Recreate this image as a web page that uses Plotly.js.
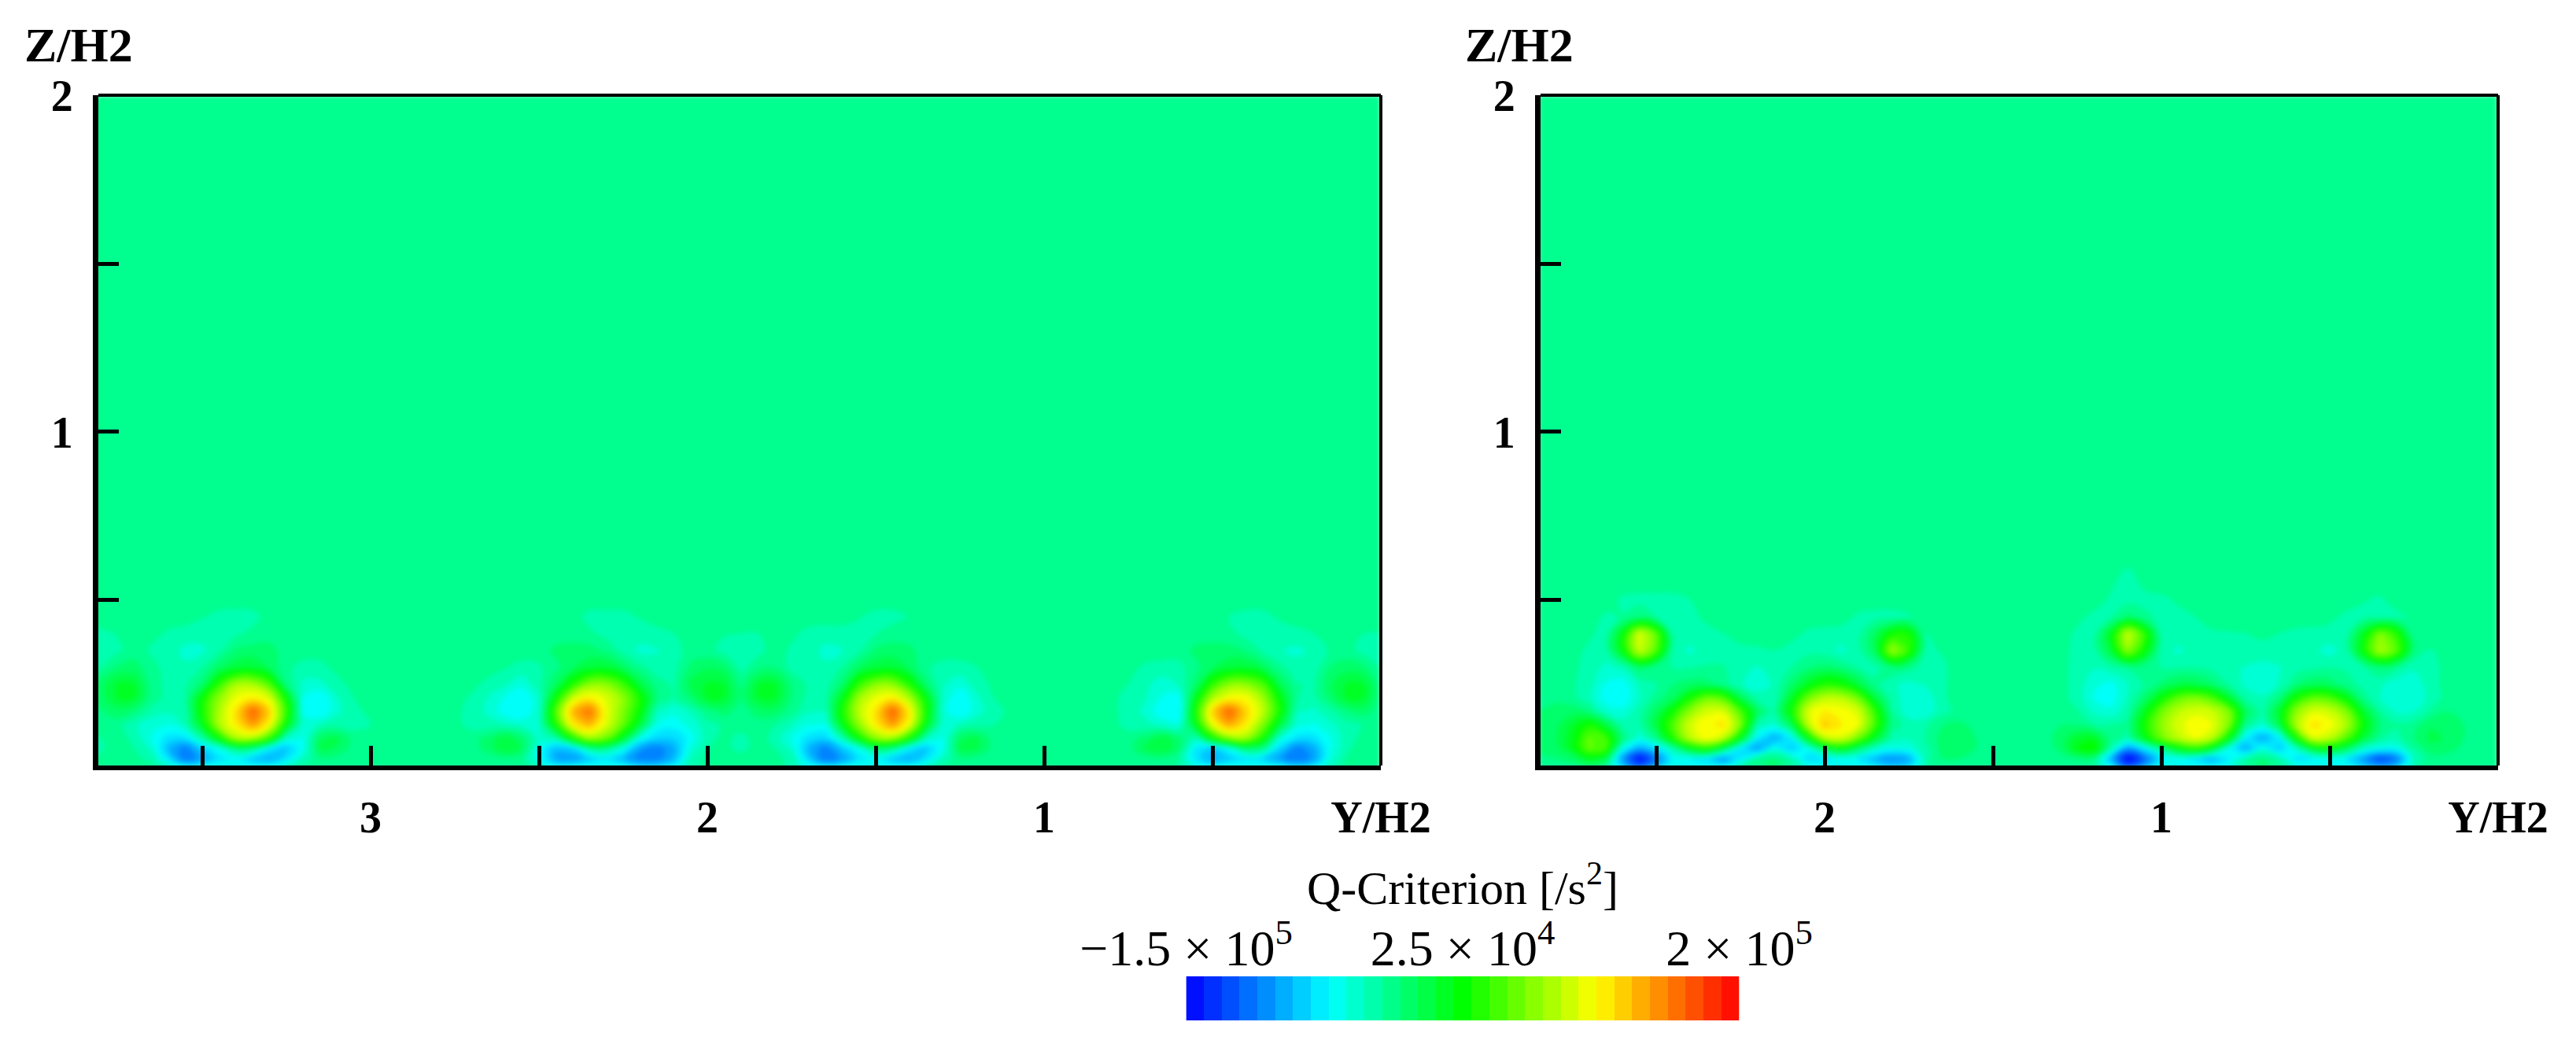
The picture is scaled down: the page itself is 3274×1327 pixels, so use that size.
<!DOCTYPE html>
<html><head><meta charset="utf-8">
<script src="https://cdn.plot.ly/plotly-3.0.1.min.js"></script>
<style>html,body{margin:0;padding:0;background:#fff}.contourlayer{filter:blur(3px)}</style>
</head><body><div id="chart" style="width:3274px;height:1327px"></div>
<script>
// Q-criterion in units of 1e4 /s2. Background reading:
const background = -2;
const rowZ = [0,.03,.06,.09,.13,.17,.21,.25,.30,.35,.40,.45,.50,.55,2];
const leftY = [3.82,3.75,3.70,3.65,3.60,3.55,3.50,3.45,3.40,3.35,3.30,3.25,3.20,3.15,3.10,3.05,3.00,2.95,2.90,2.85,2.80,2.75,2.70,2.65,2.60,2.55,2.50,2.45,2.40,2.35,2.30,2.25,2.20,2.15,2.10,2.05,2.00,1.95,1.90,1.85,1.80,1.75,1.70,1.65,1.60,1.55,1.50,1.45,1.40,1.35,1.30,1.25,1.20,1.15,1.10,1.05,1.00,.95,.90,.85,.80,.75,.70,.65,.60,.55,.50,.45,.40,.35,.30,.25,.20,.15,.10,.05,0];
const rightY = [2.85,2.80,2.75,2.70,2.65,2.60,2.55,2.50,2.45,2.40,2.35,2.30,2.25,2.20,2.15,2.10,2.05,2.00,1.95,1.90,1.85,1.80,1.75,1.70,1.65,1.60,1.55,1.50,1.45,1.40,1.35,1.30,1.25,1.20,1.15,1.10,1.05,1.00,.95,.90,.85,.80,.75,.70,.65,.60,.55,.50,.45,.40,.35,.30,.25,.20,.15,.10,.05,0];

// Each reading run: [first column index, values...]; unlisted cells read as background.
const leftZ000 = [[4,-3,-4.5,-5,-4.5,-4.5,-5,-4.5,-3],[26,-3,-5,-5,-4.5,-4.5,-5,-6,-6,-5,-3],[41,-3,-4.5,-5,-5,-4.5,-4.5,-5,-4.5,-3],[64,-2.5,-4,-5,-4.5,-4.5,-4.5,-5,-6,-5.5,-3]];
const leftZ003 = [[0,-2.5,-2,-2.3,-3,-6.5,-10.5,-8.5,-6.5,-6,-7.5,-8.5,-6.5,-3.5,-1.8],[22,-2,-2,-1.8,-2.2,-5,-8.5,-9,-7.5,-6.5,-8,-10,-10,-8,-3.5,-2.2],[40,-2.2,-3,-7,-10.5,-9,-6.5,-6,-7.5,-8.5,-6.5,-3.5,-1.8],[62,-2,-1.8,-2.5,-6.5,-8.5,-7.5,-6.5,-7,-9,-10.5,-9,-4.5,-2.4]];
const leftZ006 = [[0,-3,-2,-2.6,-4,-8,-10,-7,-5,-1.5,-2,-6,-7.5,-5,0,-.5],[23,-1,.8,-.5,-5,-8,-7,-2.5,-2,-5,-9,-10,-8.5,-4.5,-2.6,-2.2,-3],[40,-2.6,-4,-8,-10,-7.5,-5,-1,-2,-6,-7.5,-5,0,0],[62,0,.8,-1,-6,-7.5,-5,-1,-2,-7,-10,-8.5,-5,-2.8]];
const leftZ009 = [[0,-2.8,-2,-3,-5,-6.5,-6.5,-3,2.5,8,8,4,-4,-5,-.5,0],[23,-1,.5,-1,-4,-3,3,7.5,6,1,-5,-7,-7,-5.5,-3,-2.2,-3],[40,-3,-5,-6.5,-7,-3.5,2.5,7,7.5,3,-3.5,-5,-.5,0],[62,-1,.5,-1,-3.5,2.5,7,7.5,3,-4.5,-6.5,-6.5,-5,-3,-2.2]];
const leftZ013 = [[0,-2,-2.2,-3.5,-4.5,-4.8,-3.5,1.5,8,11,14,10.5,2,-4.5,-3.5,-3,-3,-2.6],[21,-2.2,-3,-3.2,-3.5,-4,-4,3,11,13,9.5,5.5,.5,-5,-5.5,-4.5,-3,-2.4],[39,-2,-2.5,-3.6,-4.8,-5,1.5,7,11,14,10,1.5,-4.5,-3.5,-3,-2.6,-2.3],[60,-2.2,-3,-3.4,-4,-4.5,1.5,10,13.5,11,6.5,.5,-4.5,-5,-4,-3,-2.5]];
const leftZ017 = [[0,-1.8,-.8,-1.5,-3,-3.5,-3,3,8,11.5,16,12,4,-5,-6,-4,-3,-2.2],[21,-2.3,-3,-4,-5.5,-6,-4,5,13,15.5,10,6.5,2.5,-3.5,-4.5,-3.5,-1.8,-1,-2,-1,-.8,-2,-3.5,-3.5,3,8.5,11.5,16,11,3,-4.5,-6,-4.2,-3,-2.3],[60,-2.3,-3,-4,-5.8,-6,3,12,16,12,8.5,3,-3.5,-4,-3,-1.5,-1]];
const leftZ021 = [[0,-1.5,1,.8,-2,-3,-2.6,2.5,7,10,11,9.5,2.5,-5,-6,-3.8,-2.6],[22,-2.8,-3.8,-5,-6,-4,2.5,9,11,9.5,7,3,-1.5,-2.8,-1.2,1,.8,-1.5,.8,1,-1.5,-3,-3,1.5,7.5,10,11,8,2,-4,-6,-4,-2.6],[60,-2.3,-3,-3.6,-5,-5.5,1.5,8,10.5,10.5,7.5,2.2,-2.5,-3,-1,1,.8]];
const leftZ025 = [[0,-1.5,1,.8,-2,-3,-2.8,-1,4,8,8,5,-1.5,-4,-4,-3,-2.2],[22,-2.2,-3,-3.6,-4.5,-3,-.5,3.5,7,7,4.5,.5,-2,-2.8,0,1,.8,-1.8,.8,1,-1.5,-2.8,-3.2,-1,4,7,7,3.5,-1,-3.6,-4.5,-3.2,-2.3],[60,-2,-2.6,-3.4,-4.3,-3.6,-1,4,7,7,5,0,-2.5,-2.8,-.5,1,.8]];
const leftZ030 = [[0,-3,-1.2,-1,-2.2,-3,-3.5,-2.6,-.6,.5,.8,-.5,-2.3,-3,-3,-2.2],[24,-2.5,-3,-2.8,-1.8,-.5,.5,.8,-.5,-2.2,-3.2,-3,-1.2,-.5,-.8,-3,-1.8,-1.5,-3,-3.5,-3.5,-2.5,-.5,.5,.8,-.5,-2.4,-3,-3,-2.6],[61,-2.2,-2.8,-3,-3,-1.8,-.5,.5,.8,-.3,-2.2,-3.2,-3.2,-1.4,-.8,-1.2,-2.6]];
const leftZ035 = [[0,-3,-2.8,-2,-2.8,-3.2,-4,-4,-2.8,-1.2,-1,-1,-2],[27,-1.2,-1,-1,-1.6,-3,-4,-3.8,-3.2,-2,-2.2,-3,-3.5,-3,-2,-2.8,-3.2,-4,-3.8,-2.8,-1.2,-1,-1.2],[65,-1.2,-1,-1,-1.5,-2.8,-3.6,-4,-3.4,-2.4,-2.2,-3,-3]];
const leftZ040 = [[0,-3,-2.5,-2,-2.2,-2.8,-3.2,-3.2,-3,-2.8,-2.2],[29,-2.3,-3,-3.2,-3.2,-3,-2.6,-2,-2,-2.5,-2.6,-2.6,-2,-2.3,-3,-3.2,-3.2,-3,-2.6],[67,-2.2,-3,-3.2,-3.2,-3,-2.6,-2,-2,-2.6,-2.6]];
const leftZ045 = [[6,-2.5,-3,-3.1,-3],[29,-3,-3,-3,-2.5],[45,-2.5,-3,-3,-2.5],[67,-2.6,-3,-3,-2.4]];
const leftZ050 = [];
const leftZ055 = [];
const leftZtop = [];

const rightZ000 = [[4,-2.6,-7,-10,-7.5,-4.5,-5,-5.5,-5,-2.5,-1.5,-1,-2,-4,-4.5,-4.5,-5,-6,-7,-6.5,-2.6],[34,-5,-10,-7.5,-4.5,-4.5,-5,-5.5,-4.5,-2,-1,-2,-4,-4.5,-4.5,-5,-7,-8,-7,-2.5]];
const rightZ003 = [[0,-1.8,-1.5,-1,1.5,0,-9,-14,-10,-5.5,-6,-6.5,-9,-6,-2.5,-1.5,-3,-7,-6.5,-5.5,-6,-8,-9.5,-8.5,-3,-1.5,-1.5],[31,-1.8,-1.5,-1.8,-8,-14.5,-11,-6,-5.5,-6.5,-8,-6,-3,-1.5,-3,-6.5,-6,-5.5,-6,-9,-12,-10,-3.5]];
const rightZ006 = [[0,-1.2,-.8,1.5,5.5,4.5,-5,-8.5,-6.5,-3,1.5,3.5,-.5,-6,-9,-5,-7.5,-5,-.5,2,-1,-4,-5,-4.5,-3,-1,-.5,-1.5],[31,-1.2,2,3,-3,-9,-6,-2,2,4,1,-5,-8.5,-5,-7.5,-4,1,2,-.5,-4,-5,-5,-2.5,-.8,-1,-1.8]];
const rightZ009 = [[0,-1,-.5,1.5,5.5,4.5,-1.5,-4.5,-2,3.5,8.5,10.5,8.5,1.5,-6,-8.5,-6,1.5,8.5,9.5,6,1,-3,-3.5,-2.5,-1,-.5,-1.5],[31,-1,1,1.5,-2,-3,1.5,6,8.5,10,8.5,2,-6,-8.5,-6,2.5,9.5,8.5,5,.5,-2.5,-3,-1.5,0,-.5,-1.5]];
const rightZ013 = [[0,-1,-.8,1,3,.5,-3,-3,.5,5,9.5,10.5,11.5,6.5,-3,-4.2,-.5,8.5,12.5,11,10,4.5,-2,-3,-2.8,-1.5,-1.2,-1.8],[31,-1.5,-1.5,-2.5,-2.6,-2.2,3,7,9.5,10.5,10,6.5,-2,-4.2,0,8,11.5,10.5,8,2.5,-1.5,-2.4,-2,-.5,-.5,-1.5]];
const rightZ017 = [[0,-1.5,-1,-.8,-1.5,-4,-4.5,-3,-.5,3,7,9.5,9.5,5,-.5,-2.5,2.5,9.5,11,10.5,9.5,4,-2.5,-4.5,-4.5,-3,-2.2],[32,-2.5,-4,-4.5,-3,1.5,6,8.5,9.5,9,6.5,-.5,-3,1,7,9.5,9,6.5,1,-2.5,-4,-3.8,-2.4,-1.5,-1.8]];
const rightZ021 = [[1,-1.8,-2.2,-3.4,-5.5,-5.8,-3.8,-2,-.5,3,6,5,0,-3,-3.5,1,6,8.5,8.5,6,.5,-3,-4.5,-4.5,-2.8],[31,-2.2,-3,-5,-5.5,-3.6,-1,2.5,5.5,6.5,5,1,-2.8,-3.5,-1.5,3,5.5,5,2,-2,-3.8,-4.8,-4.8,-3.2,-2.2]];
const rightZ025 = [[2,-2.4,-3.2,-5,-5.5,-3.5,-2.6,-1.5,-1,-1,-2,-3.5,-4.5,-3.5,-1,1.5,3.5,3,.5,-2.2,-3.5,-4,-3.6,-2.8],[31,-2.2,-3,-4.6,-5.2,-3.8,-2.4,-1.2,0,0,-1,-2.6,-4,-4.5,-3.6,-1.5,-.5,-.8,-2,-3,-3.5,-4.5,-4.5,-3,-2.2]];
const rightZ030 = [[2,-2.3,-3,-4,-3.5,-1,-2.4,-2.6,-2.6,-2.5,-2.5,-3.4,-3.8,-3.2,-2.6,-1.5,-1,-1.5,-2.6,-3,-1.5,-2.2,-3,-2.8],[31,-2.2,-3,-3.6,-3,-2.4,-2.4,-2.6,-2.6,-2.6,-3,-3.4,-3.8,-4.2,-3.8,-3.2,-2.8,-2.6,-2.8,-2.8,-1.5,-2.4,-3.5,-3,-2.2]];
const rightZ035 = [[2,-2.2,-2.8,-3,2,9,5,-3,-4,-3,-3,-3,-2.8,-2.6,-3,-3,-3.2,-4,-3,-.5,7.5,4,-2.8,-2.5],[31,-2.2,-2.9,-3,.5,7,2.5,-3,-4,-3,-3,-2.9,-2.8,-2.9,-3,-3,-3.4,-4.2,-3,2.5,8,5,-1.5,-2.7]];
const rightZ040 = [[3,-2.4,-3,2,9.5,5.5,-3,-3,-3,-2.6],[15,-2.2,-2.8,-3,-3,-3,-.5,3,3,-2.6],[31,-2.1,-2.8,-3,1.5,9,4,-3,-3,-3,-2.8,-2.7,-2.6,-2.4,-2.6,-2.9,-3,-3,-3,1.5,6.5,3.5,-2.6]];
const rightZ045 = [[4,-2.8,-2.5,-1.5,-2.6,-3,-3,-2.3],[18,-2.2,-2.8,-3,-3,-2.7],[32,-2.3,-2.9,-2.6,-1,-2.2,-3,-3,-2.6],[47,-2.3,-2.9,-2.9,-3,-2.9,-2.4]];
const rightZ050 = [[5,-2.8,-3,-3,-3,-2.6],[34,-2.8,-3,-3,-2.9,-2.4],[49,-2.5,-2.8]];
const rightZ055 = [[34,-2.3,-2.6,-2.3]];
const rightZtop = [];

const leftRows = [leftZ000,leftZ003,leftZ006,leftZ009,leftZ013,leftZ017,leftZ021,leftZ025,leftZ030,leftZ035,leftZ040,leftZ045,leftZ050,leftZ055,leftZtop];
const rightRows = [rightZ000,rightZ003,rightZ006,rightZ009,rightZ013,rightZ017,rightZ021,rightZ025,rightZ030,rightZ035,rightZ040,rightZ045,rightZ050,rightZ055,rightZtop];

// Colour bar bands (1e4 /s2)
const barLevels = [-14.44,-13.31,-12.18,-11.05,-9.92,-8.79,-7.66,-6.53,-5.4,-4.27,-3.15,-2.02,-.89,.24,1.37,2.5,3.63,4.76,5.89,7.02,8.15,9.27,10.4,11.53,12.66,13.79,14.92,16.05,17.18,18.31,19.44];
const barTickVals = [-15,2.5,20];
const barTickText = ['−1.5 × 10<sup>5</sup>','2.5 × 10<sup>4</sup>','2 × 10<sup>5</sup>'];
const barTitle = 'Q-Criterion [/s<sup>2</sup>]';
const jet = [[0,'#0000ff'],[.26,'#00ffff'],[.5,'#00ff00'],[.74,'#ffff00'],[1,'#ff0000']];

const leftXTicks = [3,2,1,0];
const leftXMinor = [3.5,2.5,1.5,.5];
const leftXText = ['3','2','1','Y/H2'];
const rightXTicks = [2,1,0];
const rightXMinor = [2.5,1.5,.5];
const rightXText = ['2','1','Y/H2'];
const zTicks = [1,2];
const zMinor = [.5,1.5];
const zText = ['1','2'];

function expand(rows,n){
  return rows.map(r=>{const a=new Array(n).fill(background);
    r.forEach(seg=>{for(let i=1;i<seg.length;i++)a[seg[0]+i-1]=seg[i];});return a;});
}
const W=3274,H=1327,serif='"Liberation Serif",serif';
const fx=p=>p/W, fy=p=>1-p/H;
const cs=35/31;
const field=(x,rows,xa,ya)=>({type:'contour',x:x,y:rowZ,z:expand(rows,x.length),xaxis:xa,yaxis:ya,
  autocontour:false,contours:{start:-15,end:20,size:cs,coloring:'fill',showlines:false},
  line:{width:0,smoothing:1.3},colorscale:jet,zmin:-15+cs/2,zmax:20+cs/2,zauto:false,showscale:false,hoverinfo:'skip'});
const bar={type:'heatmap',x:barLevels,y:[0],z:[barLevels],xaxis:'x3',yaxis:'y3',colorscale:jet,zmin:-15,zmax:20,showscale:false,hoverinfo:'skip'};
const tf={family:serif,size:56,color:'#000',weight:'bold'};
const xAx=(d,r,v,t,m,a)=>({domain:d,range:r,anchor:a,tickmode:'array',tickvals:v,ticktext:t,ticks:'inside',ticklen:25,tickwidth:5,tickcolor:'#000',
  minor:{tickmode:'array',tickvals:m,ticks:'inside',ticklen:25,tickwidth:5,tickcolor:'#000',showgrid:false},
  showline:true,linewidth:6,linecolor:'#000',showgrid:false,zeroline:false,tickfont:tf,ticklabelstandoff:12,tickangle:0});
const yAx=(a)=>({domain:[fy(973),fy(121)],range:[.0093,2],anchor:a,tickmode:'array',tickvals:zTicks,ticktext:zText,ticks:'inside',ticklen:26,tickwidth:5,tickcolor:'#000',
  minor:{tickmode:'array',tickvals:zMinor,ticks:'inside',ticklen:26,tickwidth:5,tickcolor:'#000',showgrid:false},
  showline:true,linewidth:7,linecolor:'#000',showgrid:false,zeroline:false,tickfont:tf,ticklabelstandoff:14});
const frame=(xr,yr)=>[
  {type:'line',xref:xr+' domain',yref:yr+' domain',x0:0,x1:1,y0:1,y1:1,line:{color:'#000',width:4},layer:'above'},
  {type:'line',xref:xr+' domain',yref:yr+' domain',x0:1,x1:1,y0:0,y1:1,line:{color:'#000',width:4},layer:'above'}];
const label=(x,y)=>({xref:'paper',yref:'paper',x:fx(x),y:fy(y),text:'Z/H2',showarrow:false,xanchor:'center',yanchor:'middle',font:{family:serif,size:62,color:'#000',weight:'bold'}});
const layout={width:W,height:H,margin:{l:0,r:0,t:0,b:0},paper_bgcolor:'#fff',plot_bgcolor:'#fff',showlegend:false,
  xaxis:xAx([fx(125),fx(1755)],[(1755-125)/428,0],leftXTicks,leftXText,leftXMinor,'y'),
  yaxis:yAx('x'),
  xaxis2:xAx([fx(1958),fx(3175)],[(3175-1958)/428,0],rightXTicks,rightXText,rightXMinor,'y2'),
  yaxis2:yAx('x2'),
  xaxis3:{domain:[fx(1507.5),fx(2210.6)],range:[-15,20],anchor:'y3',side:'top',tickmode:'array',tickvals:barTickVals,ticktext:barTickText,ticks:'',
    showline:false,showgrid:false,zeroline:false,tickfont:{family:serif,size:64,color:'#000'},ticklabelstandoff:0,tickangle:0},
  yaxis3:{domain:[fy(1297),fy(1241)],range:[-.5,.5],anchor:'x3',visible:false},
  shapes:[...frame('x','y'),...frame('x2','y2')],
  annotations:[label(100,57),label(1931,57),
    {xref:'paper',yref:'paper',x:fx(1859),y:fy(1124),text:barTitle,showarrow:false,xanchor:'center',yanchor:'middle',font:{family:serif,size:60,color:'#000'}}]};
Plotly.newPlot('chart',[field(leftY,leftRows,'x','y'),field(rightY,rightRows,'x2','y2'),bar],layout,{staticPlot:true,displayModeBar:false});
</script></body></html>
